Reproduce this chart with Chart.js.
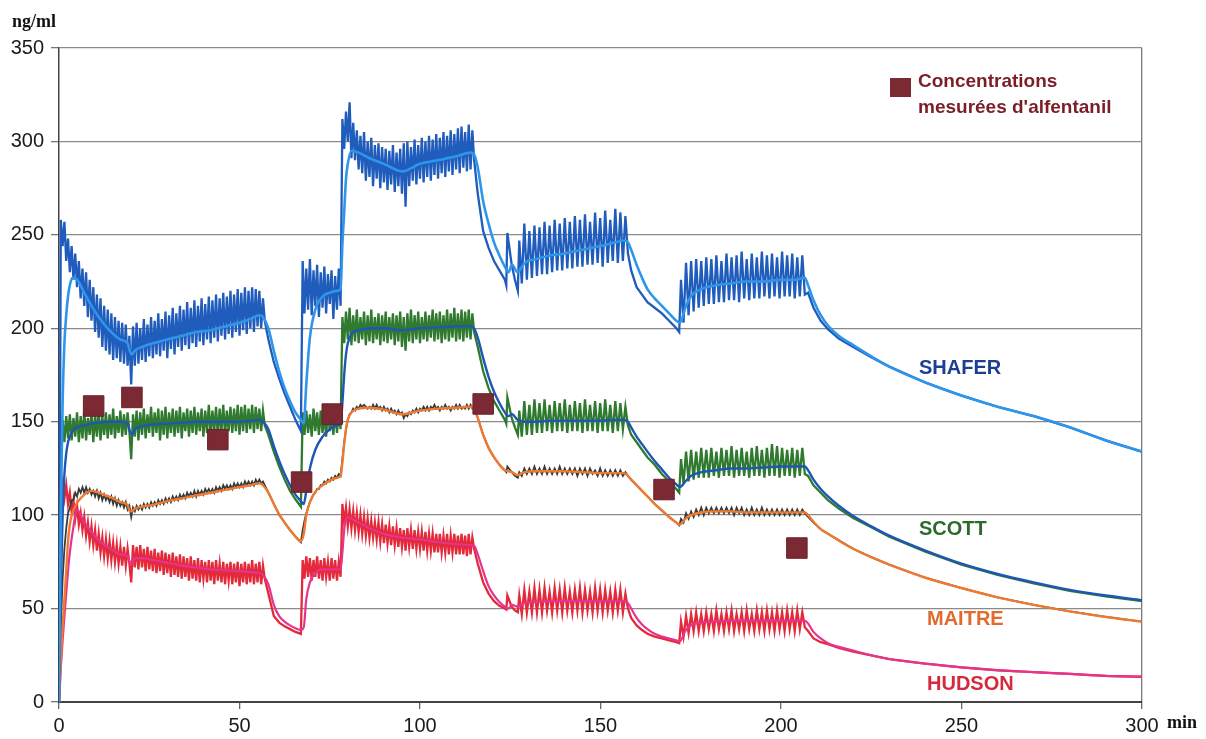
<!DOCTYPE html>
<html>
<head>
<meta charset="utf-8">
<script src="https://cdn.jsdelivr.net/npm/chart.js@4.4.0/dist/chart.umd.min.js"></script>
<style>
html,body{margin:0;padding:0;background:#fff;}
#wrap{width:1206px;height:739px;}
</style>
</head>
<body>
<div id="wrap"><canvas id="c" width="1206" height="739"></canvas></div>
<script>
// ---------- axis / label text ----------
const yUnit = 'ng/ml';
const xUnit = 'min';
const xTicks = [0, 50, 100, 150, 200, 250, 300];
const yTicks = [0, 50, 100, 150, 200, 250, 300, 350];
const modelNames = ['SHAFER', 'SCOTT', 'MAITRE', 'HUDSON'];
const legendLines = ['Concentrations', "mesurées d'alfentanil"];

// ---------- time grid for the oscillating (plasma) curves, minutes ----------
const minutes = [
  0,0.5,1,1.5,2,2.5,3,3.5,4,4.5,5,5.5,6,6.5,7,7.5,8,8.5,9,9.5,
  10,10.5,11,11.5,12,12.5,13,13.5,14,14.5,15,15.5,16,16.5,17,17.5,18,18.5,19,19.5,
  20,20.5,21,21.5,22,22.5,23,23.5,24,24.5,25,25.5,26,26.5,27,27.5,28,28.5,29,29.5,
  30,30.5,31,31.5,32,32.5,33,33.5,34,34.5,35,35.5,36,36.5,37,37.5,38,38.5,39,39.5,
  40,40.5,41,41.5,42,42.5,43,43.5,44,44.5,45,45.5,46,46.5,47,47.5,48,48.5,49,49.5,
  50,50.5,51,51.5,52,52.5,53,53.5,54,54.5,55,55.5,56,56.5,57,
  58,59.5,61,62.5,64,65.5,67,
  67.5,68,68.5,69,69.5,70,70.5,71,71.5,72,72.5,73,73.5,74,74.5,75,75.5,76,76.5,77,77.5,78,
  78.5,79,79.5,
  80,80.5,81,81.5,82,82.5,83,83.5,84,84.5,85,85.5,86,86.5,87,87.5,88,88.5,89,89.5,
  90,90.5,91,91.5,92,92.5,93,93.5,94,94.5,95,95.5,96,96.5,97,97.5,98,98.5,99,99.5,
  100,100.5,101,101.5,102,102.5,103,103.5,104,104.5,105,105.5,106,106.5,107,107.5,108,108.5,109,109.5,
  110,110.5,111,111.5,112,112.5,113,113.5,114,114.5,115,
  116,117.5,119,120.5,122,123.5,123.9,124.2,125.4,126.3,127.1,
  127.5,128.2,128.9,129.6,130.3,131,131.7,132.4,133.1,133.8,134.5,135.2,135.9,136.6,137.3,138,138.7,139.4,140.1,140.8,
  141.5,142.2,142.9,143.6,144.3,145,145.7,146.4,147.1,147.8,148.5,149.2,149.9,150.6,151.3,152,152.7,153.4,154.1,154.8,
  155.5,156.2,156.9,
  157.6,158.5,160,161.5,163,165,167,169,171,171.8,
  172.3,173,173.7,174.4,175.1,175.8,176.5,177.2,177.9,178.6,179.3,180,180.7,181.4,182.1,182.8,183.5,184.2,184.9,185.6,
  186.3,187,187.7,188.4,189.1,189.8,190.5,191.2,191.9,192.6,193.3,194,194.7,195.4,196.1,196.8,197.5,198.2,198.9,199.6,
  200.3,201,201.7,202.4,203.1,203.8,204.5,205.2,205.9,206.6,
  207.5,209,211,213,216,220,225,230,240,250,260,270,280,290,300
];

// ---------- time grid for the smooth (effect-site) curves, minutes ----------
const smoothMinutes = [
  0,0.5,1,1.5,2,2.5,3,3.7,5,7,
  9,11,13,15,17,19,19.6,20.2,21,23,
  26,30,34,38,42,46,50,53,55.5,56.5,
  58,59.5,61,62.5,64,65.5,67,67.8,68.5,69.5,
  71,73,75,77,78,78.5,79,79.5,80,81,
  83,86,90,95,100,105,110,114,115,116,
  117.5,119,120.5,122,123.5,124.5,125.5,127,129,132,
  136,140,145,150,154,156.5,157.6,158.5,160,161.5,
  163,165,167,169,171,172,173.5,175,178,182,
  186,190,195,200,204,206.6,207.5,209,211,213,
  216,220,225,230,240,250,260,270,280,290,300
];

// ---------- SHAFER ----------
const shaferPlasma = [
  0,258,244,257,236,248,230,244,226,240,222,236,216,232,212,230,206,226,204,222,
  198,218,195,216,190,212,188,210,186,208,183,206,184,204,182,203,181,202,180,196,
  170,201,180,203,181,200,183,205,182,202,185,206,184,204,186,208,185,205,188,209,
  184,207,189,211,186,208,190,212,188,210,191,214,189,211,192,215,190,212,193,216,
  191,213,194,217,192,215,195,218,193,216,196,219,194,217,197,220,195,218,198,221,
  196,219,199,222,197,220,200,222,198,221,201,220,200,216,204,
  194,182,173,165,158,151,145,
  236,208,232,210,237,207,231,212,234,206,230,211,233,208,229,213,231,205,228,210,232,212,
  312,296,316,
  300,321,291,310,290,306,285,303,283,305,279,300,281,302,276,298,280,299,275,297,
  278,296,274,295,277,298,273,294,276,296,272,299,265,300,276,297,279,301,277,298,
  280,302,278,300,281,303,279,301,282,304,280,302,283,305,281,303,284,306,282,304,
  285,307,283,308,286,305,284,309,285,306,290,
  272,252,243,236,231,226,223,251,234,226,220,
  247,224,256,226,252,227,255,228,254,229,257,229,255,230,258,231,256,231,259,232,
  257,232,260,233,258,233,261,234,257,234,262,235,259,233,263,235,258,236,264,235,
  262,236,260,
  240,231,222,218,214,211,208,204,200,198,
  226,203,235,207,236,209,237,211,236,212,238,213,237,213,239,214,236,214,240,215,
  238,215,239,214,241,216,237,215,240,216,238,216,241,217,239,216,240,217,238,216,
  241,217,239,217,240,216,238,217,239,218,
  219,211,204,199.5,194.5,190,184.5,179.5,171,164,158,153,147,140,134
];
const shaferEffect = [
  0,100,160,192,207,217,223,227,226,219,
  212,206,201,197,194,192,188,186,188,190,
  192,194,196,198,199,201,203,205,207,206,
  200,188,177,168,161,155,151,149,170,195,
  210,217,219,220,221,245,262,280,288,295,
  294,291,288,284,288,290,292,294,293,286,
  268,256,246,239,233,230,234,230,235,237,
  239,240,242,244,246,247,246,242,234,227,
  221,216,212,208,204,203,211,217,221,223,
  224,225,225,226,226,227,223,215,207,201.5,
  196,191,185,179.5,171,164,158,153,147,140,134
];

// ---------- SCOTT ----------
const scottPlasma = [
  0,140,151,139,153,141,154,140,152,142,155,139,153,141,156,140,152,143,155,139,
  154,142,156,140,153,143,155,141,154,143,157,141,153,144,156,142,154,143,155,145,
  130,154,142,156,140,155,143,157,141,154,144,158,142,155,144,157,140,156,143,158,
  141,155,144,157,142,156,144,158,141,155,145,157,142,156,144,158,143,155,145,157,
  142,156,144,159,143,156,145,158,142,157,145,159,143,156,145,158,144,157,145,159,
  143,158,145,159,144,157,146,159,144,158,146,157,145,156,148,
  143,134,126,119,113,108.5,104.5,
  155,143,156,144,154,142,157,145,155,143,156,144,154,142,157,145,155,143,156,144,155,146,
  206,192,209,
  194,211,191,207,193,210,192,206,194,209,191,207,193,210,192,206,194,208,191,207,
  193,209,192,206,194,208,191,207,193,209,190,206,188,208,193,210,192,207,194,209,
  192,206,194,209,193,207,195,210,193,208,194,209,192,207,194,210,193,208,195,211,
  193,208,194,210,193,209,195,210,194,208,198,
  190,177,168,161,156,151,149,163,152,147,143,
  156,142,161,143,159,143,162,144,160,144,162,145,159,144,161,145,160,145,162,144,
  159,145,161,145,160,144,162,145,159,145,161,144,160,145,162,145,159,144,161,145,
  160,146,158,
  148,143,139,135,131,127,122,118,114,112,
  130,117,134,118,135,119,134,120,136,120,135,120,136,121,134,120,136,121,135,121,
  137,120,135,121,136,121,134,120,136,121,137,121,135,120,136,121,138,121,137,120,
  136,121,135,121,136,120,135,121,136,122,
  121,116,112,108,103.5,98.5,93.5,88.5,80.5,73.5,68,63.5,59.5,56.5,54
];
const scottEffect = [
  0,60,100,122,133,139,142,145,147,148,
  149,149.5,150,150,150,149,145,143,146,147.5,
  148.5,149,149.5,150,150,150,150,150.5,151,150,
  146,137,129,122,116,111,107.5,106,113,125,
  135,142,146,148,149,160,175,186,192,197,
  199,200,200,199,200,200.5,201,201,200,195,
  184,174,166,160,155,153,154,151,150,150,
  150.5,150.5,150.5,150.5,151,151,150,147,142,138,
  134,129,124.5,120,116.5,115,118,121,123,124,
  125,125,125.5,126,126,126,124,119,114,110,
  105,99.5,94,89,81,74,68.5,64,60,57,54.5
];

// ---------- MAITRE ----------
const maitrePlasma = [
  0,40,66,82,93,101,104,108,108,112,110,114,112,115,112,115,112,114,111,113,
  110,113,109,112,108,111,108,110,107,110,106,109,105,108,105,107,104,107,103,105,
  99,104,102,105,103,105,103,106,104,106,104,107,105,107,105,108,106,108,106,109,
  107,109,107,110,108,110,108,111,109,111,109,112,110,112,110,113,110,113,111,113,
  111,114,112,114,112,114,112,115,113,115,113,116,114,116,114,116,114,117,115,117,
  115,117,115,118,116,118,116,118,116,119,117,119,117,118,116,
  112,106,100,96,92,88.5,85.5,
  92,97,101,104,107,109,111,112,114,114,116,116,118,117,119,118,120,119,121,120,122,121,
  130,139,146,
  151,154,155,157,156,158,157,159,158,159,158,157,158,157,159,157,159,157,158,156,
  158,156,157,155,157,155,156,154,156,154,155,152,154,153,155,154,156,155,157,155,
  157,156,158,156,158,156,158,157,159,157,158,156,158,157,159,157,158,156,158,157,
  159,157,159,157,158,157,159,157,159,157,157,
  152,143,136,131,127,124,123,126,123,121,120,
  123,121,125,122,125,122,126,122,125,122,126,122,125,122,125,122,126,122,125,122,
  125,122,125,121,125,122,125,121,125,122,124,121,125,121,124,121,124,121,124,121,
  124,121,123,
  121,119,116,113,110,106,102.5,99,96,94.5,
  98,96,101,98,102,99,103,100,104,100,104,101,104,101,104,101,104,101,104,101,
  104,100,104,101,104,100,103,100,104,100,103,100,104,100,103,100,103,100,103,100,
  103,100,103,100,103,100,103,100,103,101,
  99,96,92.5,90,86.5,82,77.5,73.5,66.5,61,56,52,48.5,45.5,43
];
const maitreEffect = [
  0,22,40,55,70,86,95,101,106.5,111,
  113,112,110.5,109,107,105.5,102,102,103.5,104.5,
  105.5,107.5,109,110.5,112,113.5,115,116,117,116,
  112,106,100.5,96,92,88.5,86,90,100,107,
  112.5,116,118.5,120,121,128,138,146,151,155,
  157,157.5,156.5,154,156,157,157.5,158,157,152,
  143,136,131,127,124,123.5,123,121.5,123,123.5,
  123.5,123.5,123,122.5,122.5,122.5,121,119,116,113,
  110,106,102.5,99,96,95,98,100,101.5,102,
  102,101.5,101.5,101.5,101.5,101.5,100,96.5,92.5,90,
  86.5,82,77.5,73.5,66.5,61,56,52,48.5,45.5,43
];

// ---------- HUDSON ----------
const hudsonPlasma = [
  0,110,117,109,116,106,112,102,108,98,105,95,101,92,99,89,96,86,94,84,
  92,81,90,80,88,78,87,77,86,76,85,75,84,74,83,73,83,73,82,74,
  64,84,72,83,71,84,72,82,70,83,71,81,70,82,69,80,70,81,68,80,
  69,79,67,80,68,78,67,79,66,78,67,77,65,78,66,76,65,77,64,76,
  66,75,64,76,65,75,63,76,65,74,64,75,63,74,65,75,63,74,64,75,
  62,74,64,75,63,74,64,76,63,74,64,75,63,73,66,
  58,46,42.5,40.5,39,37.5,36.5,
  76,66,78,67,77,65,76,67,78,66,76,65,77,67,75,65,77,66,76,65,75,67,
  106,96,104,
  94,103,93,102,92,101,91,100,90,99,89,98,88,97,88,96,87,96,86,95,
  85,95,85,94,84,94,84,93,83,93,83,92,81,93,83,92,82,92,82,91,
  82,91,81,91,81,90,81,90,80,90,80,90,80,89,80,90,79,89,80,90,
  79,89,79,90,79,89,78,90,79,88,82,
  74,64,58,54,51.5,50,49.5,57,51,49,48,
  57,47,60,48,59,48,61,48,60,48,61,49,59,48,61,49,60,48,61,49,
  59,48,60,49,61,48,60,49,59,48,61,49,60,48,60,49,59,48,60,49,
  60,48,58,
  50,45,41,38.5,36.5,35,34,33,32,31.5,
  43,35,46,37,47,38,48,38,47,38,48,39,47,38,49,39,47,38,48,39,
  49,38,47,39,48,38,49,39,47,38,49,39,48,38,49,39,48,38,49,39,
  48,38,49,39,48,38,49,39,48,40,
  38,34,32,31,29,27,25,23,20.5,18.5,17,16,15,14,13.5
];
const hudsonEffect = [
  0,18,33,46,58,70,80,90,103,96,
  91,86.5,83.5,81,79,78,75,74,77,77,
  76,74.5,73,72,71,70.5,70,69.5,69,68,
  63,52,46,43,41,39.5,38.5,40,55,64,
  69,71,71,71,71,80,92,98,99,98,
  96,93,90,88,87,85.5,84.5,84,83.5,79,
  70,62,57,53.5,51,50,52,51,53,53.5,
  54,54,54,54,54,54,53,50,45,41.5,
  39,36.5,35,34,33,32.5,38,41,42.5,43,
  43.5,43.5,43.5,43.5,43.5,43.5,42,37.5,34,31.5,
  29.5,27.5,25,23,20.5,18.5,17,16,15,14,13.5
];

// ---------- measured alfentanil concentrations ----------
const measuredMinutes = [9.6, 20.2, 44, 67.2, 75.7, 117.5, 167.6, 204.4];
const measuredValues  = [158.4, 163, 140.4, 117.7, 154.1, 159.5, 113.7, 82.4];

// ---------- build ----------
function pair(times, vals) { return times.map((t, i) => ({ x: t, y: vals[i] })); }

const FONT = '"Liberation Sans", Arial, Helvetica, sans-serif';
const SERIF = '"Liberation Serif", "Times New Roman", serif';

function noisy(label, data, color, w) {
  return { label, data: pair(minutes, data), borderColor: color, borderWidth: w, pointRadius: 0,
           fill: false, tension: 0, order: 2 };
}
function smooth(label, data, color, w) {
  return { label, data: pair(smoothMinutes, data), borderColor: color, borderWidth: w, pointRadius: 0,
           fill: false, cubicInterpolationMode: 'monotone', order: 1 };
}

const datasets = [
  { label: legendLines.join(' '), type: 'scatter', data: pair(measuredMinutes, measuredValues),
    pointStyle: 'rect', pointRadius: 14.5, pointHoverRadius: 14.5,
    backgroundColor: '#7b2a34', borderColor: '#6a2029', borderWidth: 1, order: 0, showLine: false },
  smooth(modelNames[0] + ' effet', shaferEffect, '#2e96ea', 2.6),
  smooth(modelNames[1] + ' effet', scottEffect, '#1d56b4', 2.4),
  smooth(modelNames[2] + ' effet', maitreEffect, '#ec7a31', 2.4),
  smooth(modelNames[3] + ' effet', hudsonEffect, '#e5338f', 2.2),
  noisy(modelNames[0], shaferPlasma, '#1f5cbc', 2.3),
  noisy(modelNames[1], scottPlasma, '#2f7a2f', 2.3),
  noisy(modelNames[2], maitrePlasma, '#3a3a3a', 1.8),
  noisy(modelNames[3], hudsonPlasma, '#e42a3a', 2.3)
];

const labelsPlugin = {
  id: 'labels',
  beforeDraw(chart) {
    const ctx = chart.ctx;
    ctx.save();
    ctx.fillStyle = '#ffffff';
    ctx.fillRect(0, 0, chart.width, chart.height);
    ctx.restore();
  },
  afterDraw(chart) {
    const ctx = chart.ctx;
    ctx.save();
    ctx.textAlign = 'left';
    ctx.textBaseline = 'alphabetic';
    ctx.fillStyle = '#111';
    ctx.font = 'bold 18px ' + SERIF;
    ctx.fillText(yUnit, 12, 27);
    ctx.fillText(xUnit, 1167, 728);

    ctx.font = 'bold 20px ' + FONT;
    const lab = [
      [modelNames[0], '#1c3f94', 919, 374],
      [modelNames[1], '#2d6b2d', 919, 535],
      [modelNames[2], '#e06b2c', 927, 625],
      [modelNames[3], '#d42a3c', 927, 690]
    ];
    lab.forEach(([t, c, x, y]) => { ctx.fillStyle = c; ctx.fillText(t, x, y); });

    // legend
    ctx.fillStyle = '#7b2a34';
    ctx.fillRect(890, 78, 21, 19);
    ctx.fillStyle = '#7a1e28';
    ctx.font = 'bold 19px ' + FONT;
    ctx.fillText(legendLines[0], 918, 87);
    ctx.fillText(legendLines[1], 918, 113);
    ctx.restore();
  }
};

new Chart(document.getElementById('c'), {
  type: 'line',
  data: { datasets },
  options: {
    responsive: false,
    devicePixelRatio: 1,
    animation: false,
    events: [],
    layout: { padding: { top: 48, right: 64, bottom: 0, left: 0 } },
    plugins: { legend: { display: false }, tooltip: { enabled: false } },
    scales: {
      x: {
        type: 'linear', min: 0, max: 300,
        afterBuildTicks: (s) => { s.ticks = xTicks.map(v => ({ value: v })); },
        afterFit: (s) => { s.height = 37; },
        ticks: { font: { family: FONT, size: 20 }, color: '#1a1a1a', padding: 5, maxRotation: 0, autoSkip: false },
        grid: {
          color: (c) => (c.tick && c.tick.value === 300) ? '#7a7a7a' : 'rgba(0,0,0,0)',
          tickColor: '#666', tickLength: 7, lineWidth: 1.3, drawOnChartArea: true
        },
        border: { color: '#444', width: 2 }
      },
      y: {
        type: 'linear', min: 0, max: 350,
        afterBuildTicks: (s) => { s.ticks = yTicks.map(v => ({ value: v })); },
        afterFit: (s) => { s.width = 59; },
        ticks: { font: { family: FONT, size: 20 }, color: '#1a1a1a', padding: 7 },
        grid: { color: '#8a8a8a', tickColor: '#777', tickLength: 8, lineWidth: 1.3 },
        border: { color: '#444', width: 1.5 }
      }
    }
  },
  plugins: [labelsPlugin]
});
</script>
</body>
</html>
